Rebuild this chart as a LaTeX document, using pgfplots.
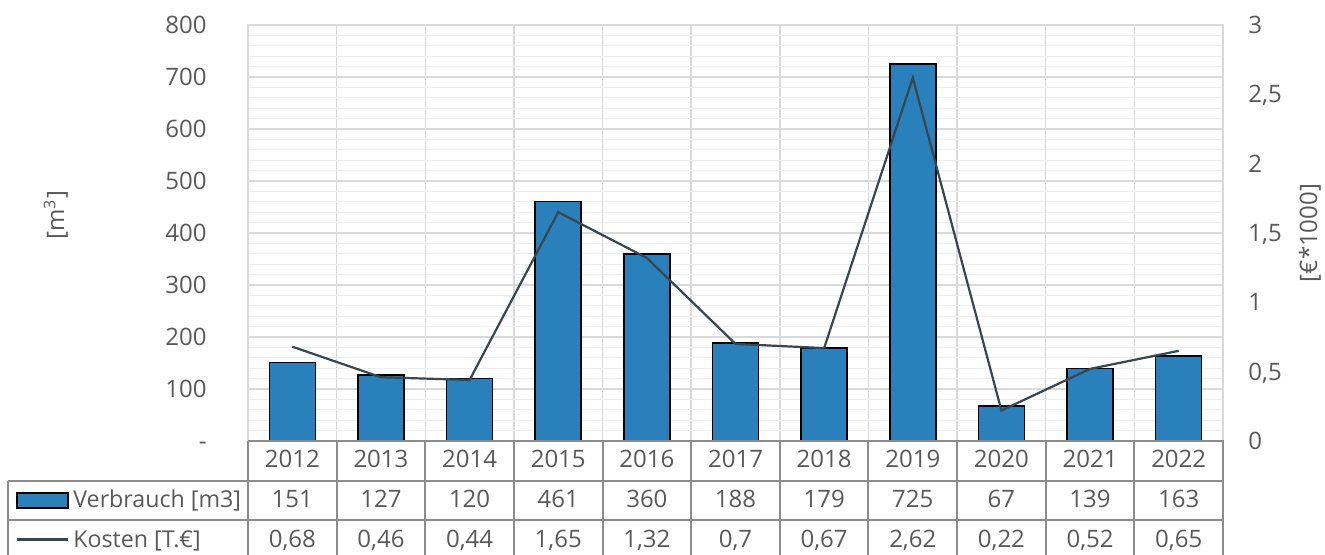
\documentclass[border=0pt]{standalone}
\usepackage{pgfplots}
\pgfplotsset{compat=1.18}
\usepackage{fontspec}
\setmainfont{Open Sans}
\definecolor{txtgrey}{HTML}{595959}
\definecolor{barblue}{HTML}{2A80BA}
\definecolor{costline}{HTML}{36474D}
\definecolor{gridmaj}{HTML}{D9D9D9}
\definecolor{gridmin}{HTML}{EEEEEE}
\definecolor{tabline}{HTML}{8C8C8C}
\newcommand\tfont{\fontsize{12}{14}\selectfont}
% 1 px of the reference = 0.5pt, origin at bottom left, y counted from top
\newcommand\px[2]{({(#1)*0.5pt},{(555-(#2))*0.5pt})}

\begin{document}
\begin{tikzpicture}
\useasboundingbox (0,0) rectangle (662.5pt,277.5pt);

% Verbrauch (left axis)
\begin{axis}[
    at={(124pt,57pt)}, anchor=south west,
    scale only axis, width=487.5pt, height=208pt,
    xmin=-0.5, xmax=10.5, ymin=0, ymax=800,
    xtick={-0.5,0.5,...,10.5}, xticklabels={},
    ytick={0,100,...,800},
    yticklabels={-,100,200,300,400,500,600,700,800},
    minor y tick num=4,
    major tick length=0, minor tick length=0,
    xmajorgrids, ymajorgrids, yminorgrids,
    major grid style={draw=gridmaj, line width=0.75pt},
    minor grid style={draw=gridmin, line width=0.6pt},
    axis line style={draw=gridmaj, line width=0.75pt},
    tick label style={font=\tfont, text=txtgrey},
    yticklabel style={anchor=east, inner sep=0pt, xshift=-20.5pt, text depth=0pt, text height=8.6pt},
    ylabel={[m\textsuperscript{3}]},
    ylabel style={font=\tfont, text=txtgrey, at={(axis description cs:-0.197,0.543)}, anchor=center},
]
\addplot[ybar, bar width=23pt, bar shift=0pt, fill=barblue, draw=black, line width=0.75pt]
    coordinates {(0,151) (1,127) (2,120) (3,461) (4,360) (5,188) (6,179) (7,725) (8,67) (9,139) (10,163)};
\end{axis}

% Kosten (right axis)
\begin{axis}[
    at={(124pt,57pt)}, anchor=south west,
    scale only axis, width=487.5pt, height=208pt,
    xmin=-0.5, xmax=10.5, ymin=0, ymax=3,
    xtick=\empty,
    ytick={0,0.5,...,3},
    yticklabel pos=right,
    major tick length=0,
    axis line style={draw=none},
    tick label style={font=\tfont, text=txtgrey},
    yticklabel style={anchor=west, inner sep=0pt, xshift=12.5pt, text depth=0pt, text height=8.6pt,
        /pgf/number format/.cd, use comma, fixed, precision=1, assume math mode=true},
    ylabel={[€*1000]},
    ylabel style={font=\tfont, text=txtgrey, at={(axis description cs:1.089,0.5)}, anchor=center},
]
\addplot[costline, line width=1.1pt, mark=none]
    coordinates {(0,0.68) (1,0.46) (2,0.44) (3,1.65) (4,1.32) (5,0.7) (6,0.67) (7,2.62) (8,0.22) (9,0.52) (10,0.65)};
\end{axis}

% data table
\begin{scope}[tabline, line width=1pt]
\draw \px{248}{441} -- \px{1223.5}{441};
\draw \px{8}{481} -- \px{1223.5}{481};
\draw \px{8}{520} -- \px{1223.5}{520};
\draw \px{8.3}{481} -- \px{8.3}{560};
\foreach \k in {0,...,11} \draw \px{248+\k*975/11}{441} -- \px{248+\k*975/11}{560};
\end{scope}

\begin{scope}[font=\tfont, text=txtgrey]
\foreach \v [count=\i from 0] in {2012,2013,2014,2015,2016,2017,2018,2019,2020,2021,2022}
    \node[anchor=base, inner sep=0pt] at \px{248+(\i+0.5)*975/11}{468} {\v};
\foreach \v [count=\i from 0] in {151,127,120,461,360,188,179,725,67,139,163}
    \node[anchor=base, inner sep=0pt] at \px{248+(\i+0.5)*975/11}{507.7} {\v};
\foreach \v [count=\i from 0] in {{0,68},{0,46},{0,44},{1,65},{1,32},{0,7},{0,67},{2,62},{0,22},{0,52},{0,65}}
    \node[anchor=base, inner sep=0pt] at \px{248+(\i+0.5)*975/11}{548} {\v};
\draw[fill=barblue, draw=black, line width=0.75pt] \px{17}{493} rectangle \px{68}{508};
\draw[costline, line width=1.1pt] \px{17}{539.5} -- \px{68}{539.5};
\node[anchor=base west, inner sep=0pt, font=\fontsize{11.6}{14}\selectfont] at \px{73}{507.7} {Verbrauch [m3]};
\node[anchor=base west, inner sep=0pt, font=\fontsize{11.6}{14}\selectfont] at \px{73}{548} {Kosten [T.€]};
\end{scope}
\end{tikzpicture}
\end{document}
